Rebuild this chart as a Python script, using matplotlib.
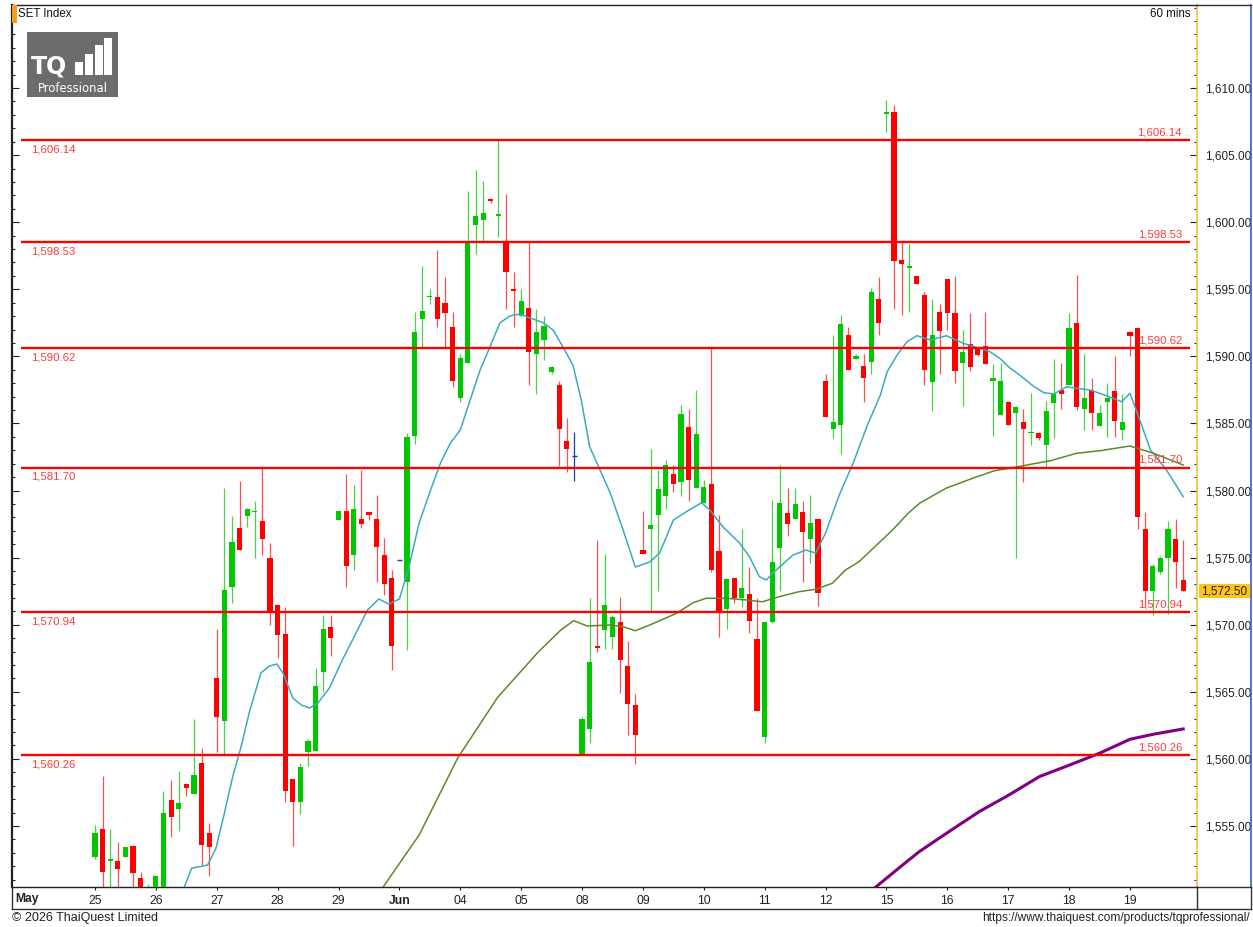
import matplotlib
matplotlib.use("Agg")
import matplotlib.pyplot as plt
from matplotlib.patches import Rectangle
from matplotlib.ticker import MultipleLocator, FuncFormatter, FixedLocator
import numpy as np

plt.rcParams['font.family'] = ['Liberation Sans', 'DejaVu Sans']

# ---------------- data ----------------
day_labels = ['25', '26', '27', '28', '29', 'Jun', '04', '05', '08', '09',
              '10', '11', '12', '15', '16', '17', '18', '19']
bars_per_day = 8
price_ticks = [1555, 1560, 1565, 1570, 1575, 1580, 1585, 1590, 1595, 1600, 1605, 1610]

open_ = [
    1552.7, 1554.8, 1552.4, 1552.4, 1552.7, 1553.5, 1551.1, 1549.9,
    1550.0, 1550.1, 1556.9, 1556.3, 1558.1, 1557.4, 1559.7, 1554.5,
    1566.0, 1562.8, 1572.8, 1577.2, 1578.1, 1578.4, 1577.7, 1575.0,
    1571.5, 1569.3, 1558.5, 1556.8, 1560.5, 1560.6, 1566.5, 1569.8,
    1577.8, 1578.5, 1575.2, 1577.9, 1578.4, 1577.9, 1575.2, 1573.5,
    1574.8, 1573.2, 1584.1, 1592.8, 1594.4, 1594.4, 1594.0, 1592.2,
    1586.9, 1589.5, 1599.8, 1600.2, 1601.7, 1600.5, 1598.6, 1595.0,
    1593.0, 1593.6, 1590.2, 1591.2, 1588.8, 1587.9, 1583.7, 1582.6,
    1560.4, 1562.2, 1568.4, 1569.6, 1569.1, 1570.2, 1566.9, 1564.0,
    1575.6, 1577.1, 1578.2, 1579.6, 1581.2, 1580.6, 1584.7, 1580.2,
    1579.1, 1580.5, 1575.5, 1571.2, 1573.5, 1572.0, 1572.3, 1568.9,
    1561.6, 1570.2, 1575.7, 1578.3, 1577.9, 1578.4, 1576.4, 1577.9,
    1588.2, 1584.6, 1584.9, 1591.6, 1589.8, 1589.3, 1589.6, 1594.3,
    1608.1, 1608.2, 1597.2, 1596.6, 1596.0, 1594.6, 1588.1, 1593.3,
    1595.8, 1593.2, 1589.5, 1590.9, 1590.6, 1590.8, 1588.2, 1585.6,
    1586.6, 1585.8, 1585.1, 1584.3, 1584.3, 1583.4, 1586.5, 1587.5,
    1587.9, 1592.5, 1586.1, 1587.5, 1584.8, 1586.6, 1587.4, 1584.5,
    1591.8, 1592.1, 1577.1, 1572.5, 1573.9, 1575.0, 1576.4, 1573.3,
]
high_ = [
    1555.1, 1558.7, 1554.8, 1553.8, 1553.4, 1553.6, 1551.6, 1550.7,
    1551.3, 1557.6, 1558.4, 1559.1, 1558.2, 1563.0, 1560.8, 1555.2,
    1569.7, 1580.2, 1578.1, 1580.7, 1578.7, 1579.2, 1581.7, 1576.1,
    1571.5, 1571.3, 1558.5, 1559.7, 1561.5, 1566.8, 1570.7, 1570.7,
    1578.5, 1581.2, 1580.4, 1581.5, 1578.4, 1579.7, 1576.5, 1574.1,
    1574.8, 1584.3, 1593.3, 1596.7, 1595.0, 1597.9, 1595.9, 1593.3,
    1590.2, 1602.3, 1603.9, 1603.1, 1601.8, 1606.2, 1602.1, 1596.3,
    1595.0, 1598.5, 1593.5, 1593.0, 1589.3, 1588.2, 1585.4, 1584.4,
    1563.1, 1572.0, 1576.3, 1575.3, 1570.7, 1572.1, 1568.8, 1564.8,
    1578.5, 1583.1, 1581.5, 1582.3, 1581.9, 1586.4, 1586.1, 1587.5,
    1580.8, 1590.7, 1578.2, 1573.4, 1573.5, 1577.1, 1574.3, 1572.0,
    1570.2, 1579.3, 1581.9, 1580.2, 1580.2, 1579.2, 1579.7, 1577.9,
    1588.7, 1591.6, 1593.1, 1592.2, 1590.2, 1590.2, 1595.1, 1595.9,
    1609.1, 1608.7, 1598.5, 1598.4, 1596.0, 1594.8, 1594.3, 1593.9,
    1595.8, 1596.0, 1592.0, 1593.2, 1590.7, 1593.3, 1589.4, 1589.5,
    1586.7, 1586.3, 1586.1, 1587.3, 1584.4, 1586.7, 1589.8, 1589.5,
    1593.2, 1596.1, 1590.2, 1588.4, 1586.4, 1588.0, 1590.0, 1587.2,
    1591.9, 1592.2, 1578.4, 1574.5, 1575.1, 1577.7, 1577.9, 1576.3,
]
low_ = [
    1552.5, 1550.0, 1550.0, 1550.2, 1552.7, 1550.0, 1549.8, 1549.6,
    1549.8, 1549.9, 1554.2, 1554.6, 1557.2, 1557.4, 1552.1, 1551.3,
    1560.5, 1560.2, 1571.6, 1575.6, 1577.3, 1575.0, 1575.2, 1570.0,
    1567.5, 1556.8, 1553.5, 1555.9, 1559.5, 1560.6, 1565.0, 1567.7,
    1577.8, 1572.8, 1574.1, 1577.2, 1577.8, 1573.2, 1572.2, 1566.6,
    1574.8, 1568.1, 1583.5, 1590.7, 1593.9, 1592.2, 1590.7, 1587.7,
    1586.6, 1589.5, 1597.6, 1598.6, 1601.4, 1598.9, 1593.5, 1592.2,
    1593.0, 1587.9, 1587.2, 1589.7, 1588.7, 1581.8, 1581.4, 1580.7,
    1560.3, 1561.2, 1568.0, 1568.2, 1568.2, 1564.9, 1561.8, 1559.6,
    1575.3, 1571.0, 1572.5, 1578.6, 1579.9, 1579.6, 1579.2, 1580.2,
    1579.1, 1573.9, 1569.1, 1569.7, 1571.6, 1571.3, 1569.4, 1563.6,
    1561.2, 1570.1, 1572.5, 1576.6, 1577.9, 1573.2, 1574.6, 1571.4,
    1585.5, 1583.9, 1582.7, 1589.0, 1589.8, 1586.6, 1588.7, 1591.6,
    1606.7, 1593.5, 1593.1, 1593.3, 1595.4, 1587.9, 1585.9, 1588.7,
    1592.0, 1588.0, 1586.3, 1588.9, 1590.0, 1589.4, 1584.1, 1585.6,
    1584.9, 1575.0, 1580.6, 1583.4, 1583.8, 1581.7, 1583.9, 1586.1,
    1587.9, 1586.0, 1584.5, 1584.5, 1584.8, 1584.0, 1584.0, 1583.8,
    1590.0, 1577.1, 1571.3, 1570.7, 1573.8, 1570.8, 1572.7, 1572.5,
]
close_ = [
    1554.5, 1551.6, 1552.5, 1551.8, 1553.4, 1551.5, 1550.2, 1550.4,
    1551.3, 1556.0, 1555.7, 1556.7, 1557.8, 1558.8, 1553.6, 1553.4,
    1563.1, 1572.6, 1576.2, 1575.6, 1578.6, 1578.5, 1576.4, 1571.0,
    1569.2, 1557.6, 1556.8, 1559.4, 1561.3, 1565.4, 1569.7, 1569.0,
    1578.5, 1574.4, 1578.6, 1577.5, 1578.2, 1575.8, 1573.0, 1568.4,
    1574.8, 1584.0, 1591.8, 1593.4, 1594.5, 1592.8, 1593.2, 1588.2,
    1589.9, 1598.6, 1600.5, 1600.7, 1601.6, 1600.6, 1596.3, 1594.9,
    1594.1, 1590.3, 1591.8, 1592.3, 1589.2, 1584.6, 1583.1, 1582.6,
    1563.0, 1567.2, 1568.3, 1571.5, 1570.6, 1567.4, 1564.1, 1561.8,
    1575.3, 1577.4, 1580.1, 1581.9, 1580.5, 1585.7, 1580.8, 1584.2,
    1580.3, 1574.1, 1571.0, 1573.4, 1572.0, 1572.7, 1570.3, 1563.6,
    1570.2, 1574.7, 1579.1, 1577.5, 1579.0, 1576.9, 1577.6, 1572.4,
    1585.5, 1585.1, 1592.4, 1589.0, 1590.0, 1588.4, 1594.8, 1592.5,
    1608.2, 1597.1, 1596.9, 1596.7, 1595.4, 1589.0, 1591.6, 1591.9,
    1593.2, 1588.9, 1590.3, 1589.2, 1590.1, 1589.4, 1588.4, 1588.2,
    1584.9, 1586.2, 1584.6, 1584.4, 1583.9, 1585.9, 1587.2, 1587.2,
    1592.1, 1586.2, 1586.9, 1585.8, 1585.8, 1586.9, 1585.2, 1585.1,
    1591.5, 1578.0, 1572.5, 1574.4, 1575.0, 1577.1, 1574.7, 1572.5,
]

# moving averages (bar index, value)
ma_fast_idx = [11.7, 12.7, 13.8, 14.8, 15.9, 17.0, 18.1, 19.2, 20.3, 21.8,
               22.9, 23.9, 24.7, 26.0, 27.1, 28.2, 29.3, 30.8, 32.5, 34.3,
               35.8, 37.3, 38.6, 40.0, 41.3, 42.6, 44.1, 45.4, 46.7, 48.0,
               49.3, 50.6, 51.9, 53.2, 54.5, 55.8, 57.2, 58.9, 60.2, 61.5,
               62.8, 63.9, 65.0, 67.7, 69.4, 71.0, 72.9, 74.2, 76.0, 77.7,
               79.7, 80.8, 82.5, 84.7, 86.0, 87.3, 88.2, 89.5, 91.7, 93.4,
               94.7, 96.0, 97.8, 99.7, 101.5, 103.2, 104.1, 105.4, 106.7, 108.0,
               109.8, 111.9, 114.1, 116.3, 117.6, 118.9, 120.2, 121.5, 123.4, 124.7,
               126.0, 127.7, 129.0, 130.8, 133.0, 134.9, 136.0, 137.3, 138.7, 140.8,
               143.0]
ma_fast_val = [1550.40, 1551.85, 1551.97, 1552.09, 1553.34, 1555.95, 1558.68, 1560.91, 1563.52, 1566.40,
               1566.92, 1567.07, 1566.40, 1564.54, 1564.02, 1563.79, 1564.17, 1565.28, 1567.37, 1569.38,
               1571.09, 1571.92, 1571.54, 1571.92, 1574.40, 1577.60, 1580.04, 1582.05, 1583.54, 1584.51,
               1586.74, 1588.98, 1590.70, 1592.49, 1593.01, 1593.16, 1592.86, 1592.51, 1591.96, 1590.70,
               1589.36, 1586.74, 1583.27, 1579.82, 1577.06, 1574.30, 1574.67, 1575.35, 1577.80, 1578.42,
               1579.09, 1578.55, 1577.30, 1576.09, 1575.07, 1573.58, 1573.33, 1574.07, 1575.19, 1575.56,
               1575.35, 1576.83, 1579.67, 1582.15, 1584.88, 1587.12, 1588.86, 1590.10, 1591.09, 1591.54,
               1591.22, 1591.54, 1590.97, 1590.60, 1590.35, 1589.85, 1589.15, 1588.61, 1587.74, 1587.29,
               1587.20, 1587.74, 1587.62, 1587.49, 1587.05, 1586.62, 1587.25, 1585.25, 1583.02, 1581.53,
               1579.54]

ma_mid_idx = [37.8, 42.6, 47.7, 52.9, 58.2, 61.2, 62.9, 64.7, 67.7, 69.4,
              71.0, 73.4, 76.4, 78.6, 80.3, 83.0, 85.6, 87.7, 89.9, 92.5,
              94.7, 96.9, 98.6, 100.4, 104.8, 106.9, 108.4, 111.9, 115.4, 118.1,
              120.5, 125.6, 129.0, 132.1, 136.0, 139.1, 143.0]
ma_mid_val = [1550.40, 1554.33, 1560.10, 1564.58, 1567.94, 1569.60, 1570.30, 1569.90, 1569.98, 1569.85,
              1569.55, 1570.10, 1570.85, 1571.64, 1571.97, 1571.97, 1571.84, 1571.71, 1572.09, 1572.46,
              1572.64, 1573.09, 1574.07, 1574.70, 1577.06, 1578.33, 1579.07, 1580.19, 1580.93, 1581.46,
              1581.70, 1582.23, 1582.78, 1582.97, 1583.32, 1582.78, 1581.90]

ma_slow_idx = [102.5, 105.6, 108.3, 112.2, 116.2, 120.1, 124.1, 128.1, 132.0, 136.0, 139.1, 143.0]
ma_slow_val = [1550.40, 1551.85, 1553.08, 1554.57, 1556.07, 1557.31, 1558.68, 1559.55, 1560.42,
               1561.46, 1561.84, 1562.23]

levels = [1606.14, 1598.53, 1590.62, 1581.70, 1570.94, 1560.26]
last_price = 1572.50

# ---------------- figure ----------------
W, H = 1253, 927
fig = plt.figure(figsize=(W / 100, H / 100), dpi=100)
fig.patch.set_facecolor('white')

PL, PR, PT, PB = 12, 1197, 5, 887          # plot box in pixels
X0, DX = 95.0, 7.61                         # pixel of bar 0, pixels per bar
YLO, YHI = 1550.45, 1616.19
ax = fig.add_axes([PL / W, 1 - PB / H, (PR - PL) / W, (PB - PT) / H])
ax.set_xlim((PL - X0) / DX, (PR - X0) / DX)
ax.set_ylim(YLO, YHI)
ax.set_facecolor('white')

o = np.array(open_); h = np.array(high_); l = np.array(low_); c = np.array(close_)
idx = np.arange(len(o))
up = c > o
dn = c < o
eq = ~(up | dn)

GREEN, GREEN_W = '#00C800', '#48D248'
RED, RED_W = '#FF0000', '#FF4E4E'
BLUE = '#1E3CA0'

wick_cols = np.where(up, GREEN_W, np.where(dn, RED_W, BLUE))
ax.vlines(idx, l, h, colors=list(wick_cols), lw=0.9, zorder=2)
bw = 0.68
bodies_b = np.minimum(o, c)
bodies_h = np.maximum(np.abs(c - o), 0.09)
ax.bar(idx[up], bodies_h[up], bottom=bodies_b[up], width=bw, color=GREEN, lw=0, zorder=3)
ax.bar(idx[dn], bodies_h[dn], bottom=bodies_b[dn], width=bw, color=RED, lw=0, zorder=3)
ax.hlines(o[eq], idx[eq] - bw / 2, idx[eq] + bw / 2, colors=BLUE, lw=1.0, zorder=3)

# moving averages
ax.plot(ma_fast_idx, ma_fast_val, color='#3AABBE', lw=1.1, zorder=4)
ax.plot(ma_mid_idx, ma_mid_val, color='#5A8A2A', lw=1.1, zorder=4)
ax.plot(ma_slow_idx, ma_slow_val, color='#800080', lw=2.2, zorder=4,
        solid_joinstyle='round')

# horizontal levels
xl0, xl1 = (21 - X0) / DX, (1190 - X0) / DX
lvl_color = '#FF3B3B'
for lv in levels:
    ax.hlines(lv, xl0, xl1, colors='#FF0000', lw=1.7, zorder=5)
    ax.annotate(f'{lv:,.2f}', xy=((31 - X0) / DX, lv), xytext=(0, -3),
                textcoords='offset points', ha='left', va='top',
                fontsize=8.2, color=lvl_color, zorder=6)
    ax.annotate(f'{lv:,.2f}', xy=((1182 - X0) / DX, lv), xytext=(0, 2),
                textcoords='offset points', ha='right', va='bottom',
                fontsize=8.2, color=lvl_color, zorder=6)

# axes styling
for side in ['left', 'top', 'bottom']:
    ax.spines[side].set_color('#202020')
ax.spines['left'].set_linewidth(1.6)
ax.spines['top'].set_linewidth(1.0)
ax.spines['bottom'].set_linewidth(1.0)
ax.spines['right'].set_color('#F0C040')
ax.spines['right'].set_linewidth(1.2)

ax.yaxis.set_major_locator(FixedLocator(price_ticks))
ax.yaxis.set_minor_locator(MultipleLocator(1))
ax.yaxis.set_major_formatter(FuncFormatter(lambda v, p: f'{v:,.2f}'))
ax.tick_params(axis='y', which='both', direction='in', left=True, right=True,
               labelleft=False, labelright=True, colors='#202020', labelsize=8.5, pad=6)
ax.tick_params(axis='y', which='major', length=5, width=0.8)
ax.tick_params(axis='y', which='minor', length=2.5, width=0.8)

day_pos = [i * bars_per_day for i in range(len(day_labels))]
ax.set_xticks(day_pos)
ax.set_xticklabels(day_labels)
ax.tick_params(axis='x', which='major', direction='out', length=2.5, width=0.8,
               colors='#202020', labelsize=8.7, pad=3)
for t in ax.get_xticklabels():
    if t.get_text() == 'Jun':
        t.set_fontweight('bold')

# ---------------- decorations (pixel-space overlay) ----------------
ov = fig.add_axes([0, 0, 1, 1], zorder=10)
ov.set_xlim(0, W)
ov.set_ylim(H, 0)
ov.axis('off')
ov.patch.set_alpha(0)

# date strip frame & right axis frame
ov.plot([PL, 1251], [909, 909], color='#303030', lw=1.0)
ov.plot([PL, PL], [PB, 909], color='#303030', lw=1.0)
ov.plot([PR, PR], [PB, 909], color='#303030', lw=1.0)
ov.plot([1251, 1251], [PT, PB], color='#3060C0', lw=1.2)
ov.plot([1251, 1251], [PB, 909], color='#303030', lw=1.0)
ov.plot([PR, 1251], [PB, PB], color='#303030', lw=1.0)
ov.plot([PR, 1251], [PT, PT], color='#303030', lw=1.0)
ov.text(27, 899, 'May', ha='center', va='center', fontsize=8.7, fontweight='bold', color='#202020')

# title bits
ov.add_patch(Rectangle((12, 5), 4.5, 18, color='#F5A01A', lw=0))
ov.text(18.5, 14, 'SET Index', ha='left', va='center', fontsize=8.3, color='#101010')
ov.text(1190, 14, '60 mins', ha='right', va='center', fontsize=8.3, color='#101010')

# logo
ov.add_patch(Rectangle((27, 32), 91, 65, color='#6C6C6C', lw=0))
ov.text(31, 66, 'TQ', ha='left', va='center', fontsize=17, fontweight='bold', color='white',
        family='DejaVu Sans')
for bx, top in [(75, 62), (85, 54), (95, 45), (104, 38)]:
    ov.add_patch(Rectangle((bx, top), 7.5, 75 - top, color='white', lw=0))
ov.text(72.5, 88, 'Professional', ha='center', va='center', fontsize=8.4, color='white',
        family='DejaVu Sans')

# last price tag
yp = PB - (last_price - YLO) / (YHI - YLO) * (PB - PT)
ov.add_patch(Rectangle((1199, yp - 7), 51, 14, color='#FFC41A', lw=0))
ov.text(1224.5, yp, f'{last_price:,.2f}', ha='center', va='center', fontsize=8.5, color='#202020')

# footer
ov.text(12, 918, '\u00a9 2026 ThaiQuest Limited', ha='left', va='center', fontsize=9, color='#202020')
ov.text(1250, 918, 'https://www.thaiquest.com/products/tqprofessional/', ha='right', va='center',
        fontsize=8.6, color='#202020')

fig.savefig('out.png', dpi=100, facecolor='white')
